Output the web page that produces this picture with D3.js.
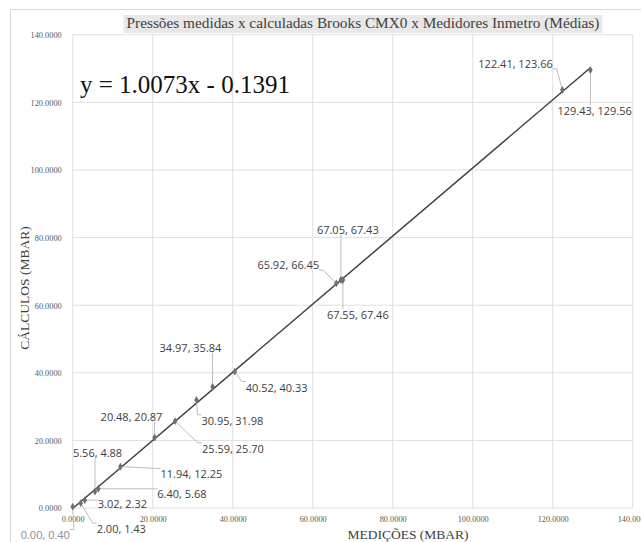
<!DOCTYPE html>
<html>
<head>
<meta charset="utf-8">
<script src="https://cdn.jsdelivr.net/npm/d3@7"></script>
<style>
  body { margin: 0; background: #fff; }
  svg { display: block; }
</style>
</head>
<body>
<script>
// medições (x) e cálculos (y), em mbar
var medicoes = [0.00, 2.00, 3.02, 5.56, 6.40, 11.94, 20.48, 25.59, 30.95, 34.97, 40.52, 65.92, 67.05, 67.55, 122.41, 129.43];
var calculos = [0.40, 1.43, 2.32, 4.88, 5.68, 12.25, 20.87, 25.70, 31.98, 35.84, 40.33, 66.45, 67.43, 67.46, 123.66, 129.56];
var slope = 1.0073;
var intercept = -0.1391;
var ticks = [0, 20, 40, 60, 80, 100, 120, 140];

// label offsets (px) from each point, left edge / vertical middle of the text
var labelDx = [-52, 16, 13, -22, 59, 40, -54, 27, 5, -53, 11, -79, -24, -16, -84, -33];
var labelDy = [29, 26, 4, -38, 5, 8, -20, 28, 21, -39, 16, -18, -50, 35, -26, 41];

var W = 641, H = 542;
var serif = "'Liberation Serif', 'Times New Roman', serif";
var sans = "'Open Sans', 'Liberation Sans', sans-serif";

var svg = d3.select("body").append("svg")
  .attr("width", W)
  .attr("height", H);

// chart border
svg.append("rect")
  .attr("x", 10.5).attr("y", 9.5)
  .attr("width", W).attr("height", H)
  .attr("fill", "none")
  .attr("stroke", "#d9d9d9");

var x = d3.scaleLinear().domain([0, 140]).range([72.7, 632.7]);
var y = d3.scaleLinear().domain([0, 140]).range([508, 34.7]);

// gridlines
svg.append("g").selectAll("line").data(ticks).enter().append("line")
  .attr("x1", function(d) { return x(d); })
  .attr("x2", function(d) { return x(d); })
  .attr("y1", y(0)).attr("y2", y(140))
  .attr("stroke", "#e0e0e0").attr("stroke-width", 1);

svg.append("g").selectAll("line").data(ticks).enter().append("line")
  .attr("y1", function(d) { return y(d); })
  .attr("y2", function(d) { return y(d); })
  .attr("x1", x(0)).attr("x2", x(140))
  .attr("stroke", "#e0e0e0").attr("stroke-width", 1);

// axes (labels only)
var fmt = d3.format(".4f");
var xAxis = svg.append("g")
  .attr("transform", "translate(0," + (y(0) + 5) + ")")
  .call(d3.axisBottom(x).tickValues(ticks).tickFormat(fmt).tickSize(0));
var yAxis = svg.append("g")
  .attr("transform", "translate(" + (x(0) - 8) + ",0)")
  .call(d3.axisLeft(y).tickValues(ticks).tickFormat(fmt).tickSize(0));

[xAxis, yAxis].forEach(function(a) {
  a.select(".domain").remove();
  a.selectAll("text")
    .attr("font-family", serif)
    .attr("font-size", "8.3px")
    .attr("fill", "#595959");
});
yAxis.selectAll("text").attr("dy", "0.35em");

// title
var title = svg.append("text")
  .attr("x", 363).attr("y", 28)
  .attr("text-anchor", "middle")
  .attr("font-family", serif)
  .attr("font-size", "15.3px")
  .attr("fill", "#404040")
  .text("Pressões medidas x calculadas Brooks CMX0 x Medidores Inmetro (Médias)");
var tb = title.node().getBBox();
svg.insert("rect", function() { return title.node(); })
  .attr("x", tb.x - 3).attr("y", 15)
  .attr("width", tb.width + 6).attr("height", 18)
  .attr("fill", "#e8e8e8");

// axis titles
svg.append("text")
  .attr("x", 408).attr("y", 539)
  .attr("text-anchor", "middle")
  .attr("font-family", serif)
  .attr("font-size", "13.5px")
  .attr("fill", "#404040")
  .text("MEDIÇÕES (MBAR)");

svg.append("text")
  .attr("transform", "translate(29,288) rotate(-90)")
  .attr("text-anchor", "middle")
  .attr("font-family", serif)
  .attr("font-size", "13.5px")
  .attr("fill", "#404040")
  .text("CÁLCULOS (MBAR)");

// trendline
var xr = d3.extent(medicoes);
svg.append("line")
  .attr("x1", x(xr[0])).attr("y1", y(slope * xr[0] + intercept))
  .attr("x2", x(xr[1])).attr("y2", y(slope * xr[1] + intercept))
  .attr("stroke", "#404040")
  .attr("stroke-width", 1.5);

// equation
svg.append("text")
  .attr("x", 80).attr("y", 93)
  .attr("font-family", serif)
  .attr("font-size", "25px")
  .attr("fill", "#111")
  .text("y = " + slope.toFixed(4) + "x - " + Math.abs(intercept).toFixed(4));

var points = medicoes.map(function(m, i) {
  return { x: m, y: calculos[i], dx: labelDx[i], dy: labelDy[i] };
});

// labels + leader lines
var leaders = svg.append("g");
var labels = svg.append("g");
points.forEach(function(p, i) {
  var px = x(p.x), py = y(p.y);
  var t = labels.append("text")
    .attr("x", px + p.dx).attr("y", py + p.dy)
    .attr("dy", "0.35em")
    .attr("font-family", sans)
    .attr("font-size", "11px")
    .attr("fill", i === 0 ? "#8c8c8c" : "#404040")
    .text(p.x.toFixed(2) + ", " + p.y.toFixed(2));
  var b = t.node().getBBox();
  var ex = Math.max(b.x, Math.min(px, b.x + b.width));
  var ey = Math.max(b.y + 2, Math.min(py, b.y + b.height - 2));
  var pts = [[px, py]];
  if (ex === b.x || ex === b.x + b.width) {
    var stub = ex === b.x ? ex - 4 : ex + 4;
    pts.push([stub, ey], [ex, ey]);
  } else {
    pts.push([ex, ey]);
  }
  leaders.append("path")
    .attr("d", d3.line()(pts))
    .attr("fill", "none")
    .attr("stroke", "#bdbdbd")
    .attr("stroke-width", 1);
});

// markers
svg.append("g").selectAll("path").data(points).enter().append("path")
  .attr("transform", function(d) { return "translate(" + x(d.x) + "," + y(d.y) + ")"; })
  .attr("d", d3.symbol().type(d3.symbolDiamond).size(18))
  .attr("fill", "#6e6e6e");
</script>
</body>
</html>
